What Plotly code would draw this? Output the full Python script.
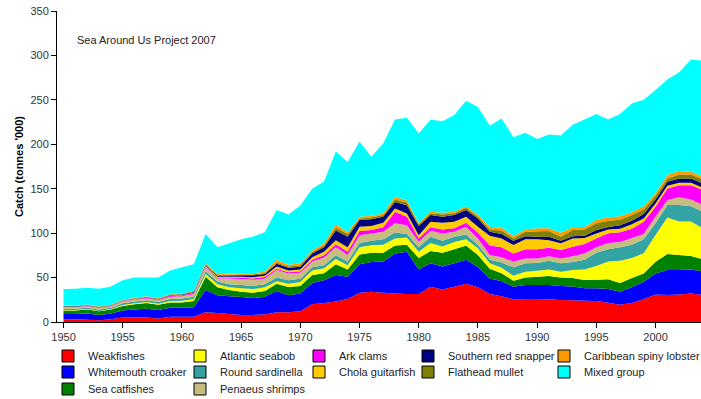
import plotly.graph_objects as go

years = list(range(1950, 2005))

weakfishes = [3, 3, 2.5, 2, 3, 5, 5, 5, 4, 6, 6, 6, 11, 10, 9, 8, 8, 8.5, 11, 11,
              12, 20, 21.5, 23, 26, 33, 34, 33, 32, 31.5, 31.5, 39.7, 36.7, 39.7, 43, 39, 31.5, 29, 25.5, 26,
              26, 25.5, 24.7, 24.5, 24, 23.6, 21.7, 19.5, 21.5, 25.5, 31, 30.4, 31, 32.2, 30.4]
whitemouth_croaker = [6, 6, 7, 6, 6.5, 8, 9, 10, 9.5, 10, 10, 10.5, 25, 20, 20, 20, 19, 20, 24, 19,
                      20, 24, 25.5, 30, 25, 32, 33.5, 35, 45, 47.5, 27.5, 26.3, 25.8, 26.3, 27, 23, 17.5, 17, 14.2, 15.6,
                      15.6, 16.1, 15.8, 15.5, 13.9, 14.4, 15.3, 14.5, 17.5, 19.9, 23.7, 28.1, 27.5, 27, 26.2]
sea_catfishes = [4, 4, 4.5, 4, 4.5, 5, 6, 6.5, 6, 6, 6, 7, 15, 9, 7, 6, 6, 6.5, 8, 9.5,
                 8.5, 9, 8, 12, 8, 11, 10.5, 10, 9, 8, 13, 14, 15.5, 16, 16, 13.5, 11, 9, 6.8, 8.4,
                 9.4, 10.1, 9.7, 9.5, 9.3, 9.5, 11, 10, 10.5, 9.3, 13.2, 18, 16.9, 15.1, 13.9]
atlantic_seabob = [0.5, 0.5, 0.5, 0.5, 0.5, 1, 1, 1, 1, 1.5, 2, 2.5, 3, 3.5, 3, 4, 4, 4, 3, 3.5,
                   4.5, 5, 5.5, 6, 5, 8, 8.5, 9, 8, 8, 7, 9, 7, 8, 7, 7.5, 6, 6, 5.5, 6.6,
                   6.7, 7.3, 6.4, 9, 11.8, 15.5, 20, 25, 22.5, 22.6, 30, 41.2, 37.6, 38.7, 35]
round_sardinella = [1.5, 1.5, 1.5, 1.5, 1.5, 2, 2, 2, 2, 2.5, 2.5, 2.5, 3, 3, 3.5, 3.5, 3.5, 3.5, 4, 4,
                    3.7, 3.5, 3.5, 4, 3.8, 5, 5, 6, 6.6, 4, 5, 7, 6.5, 6, 5.5, 3.6, 4, 6, 9.5, 9.4,
                    8.8, 10, 9.4, 9, 11, 15, 14, 15, 15, 15.7, 13.1, 13.9, 18.6, 17.4, 18.5]
penaeus_shrimps = [1.5, 1.5, 1.5, 1.5, 1.5, 2, 2, 2, 2, 2.5, 2.5, 3, 4, 3.5, 6.5, 7, 7, 6.3, 8.5, 7.5,
                   6.7, 6.5, 8.5, 9.5, 7.7, 8.6, 8, 8.6, 10.4, 10, 6.4, 6.7, 8.2, 5.6, 8.7, 7.4, 5.4, 6, 6.3, 5.6,
                   5.1, 5, 5.6, 6.5, 7, 6, 7, 6, 7.5, 6, 7.5, 5.7, 8.7, 7.6, 7.6]
ark_clams = [0.5, 0.5, 0.5, 0.5, 0.5, 0.5, 0.5, 0.7, 0.7, 1, 1, 1, 1, 1, 1, 1.5, 1.5, 1.8, 1.5, 1.5,
             1.6, 2, 2.5, 3, 3.5, 4.7, 4, 4.9, 13, 9.5, 3.6, 3.8, 4.5, 3.8, 4.5, 6.5, 10.6, 11, 9.2, 10.2,
             10.2, 9.7, 9.4, 10.8, 10.7, 10, 11, 11, 10.5, 13.9, 11.2, 13, 13.7, 16, 16.9]
chola_guitarfish = [0.3, 0.3, 0.3, 0.3, 0.3, 0.3, 0.3, 0.3, 0.3, 0.3, 0.4, 0.5, 1, 1, 1, 1, 1.5, 1.5, 2.5, 2,
                    2, 3, 4, 4.5, 5, 4.9, 4.5, 5.2, 3.8, 3.7, 3.6, 6.3, 7.5, 7.4, 6.8, 6.7, 11, 10, 9.6, 11.2,
                    11.2, 8.3, 7.5, 9.2, 6.8, 5.7, 4, 4, 5, 3.7, 3.8, 3.1, 2.7, 2.7, 2.5]
southern_red_snapper = [0.3, 0.3, 0.3, 0.3, 0.3, 0.3, 0.4, 0.4, 0.4, 0.5, 0.6, 0.7, 1, 1, 1.2, 1.5, 2, 2, 3, 3,
                        3.2, 4, 5, 11, 12, 7.5, 7.5, 6.8, 7.2, 9.3, 10.4, 7.6, 6.8, 7.6, 7.5, 9.4, 4.5, 5, 4.9, 3.6,
                        3, 4, 3, 2.6, 2.5, 3.8, 3, 4, 4, 4.9, 4.5, 4.4, 4.8, 4.8, 4.9]
flathead_mullet = [0.5, 0.5, 0.5, 0.5, 0.5, 0.5, 0.5, 0.5, 0.5, 0.5, 0.6, 0.8, 1, 1, 1, 1, 1, 1, 1.5, 1.5,
                   1.8, 1.5, 2, 3, 3, 1.8, 2, 1.8, 3, 3, 2, 2.1, 2.5, 2.1, 2.5, 1.9, 2.5, 4, 2.5, 5,
                   6, 6.3, 4.5, 6.9, 7, 7.5, 7, 6, 6.5, 5.2, 3.7, 3.7, 4.5, 4.5, 4.5]
caribbean_spiny_lobster = [0.4, 0.4, 0.5, 0.4, 0.4, 0.4, 0.5, 0.6, 0.6, 0.5, 0.6, 0.5, 1, 1, 1, 1.3, 1.5, 1.4, 3, 2,
                           2, 2, 2.5, 4, 2, 2, 2, 1.7, 3, 2.1, 1.7, 1.5, 2, 1.5, 1.9, 1.9, 3, 3, 2.6, 2.4,
                           3.4, 3.1, 4.5, 3, 3, 3.7, 4, 4, 3, 3.7, 3.1, 3.8, 3.8, 3, 3]
mixed_group = [18.5, 19, 18.9, 20, 20.5, 22, 22.8, 21, 23, 26.7, 29.3, 30, 33, 30, 34.3, 38.2, 41, 44.5, 56, 56.5,
               65, 69.5, 69.5, 82, 79, 84.5, 66.5, 79, 87, 93.4, 100.3, 104, 103, 109, 118.6, 121.6, 114, 123, 111.4, 109,
               100.6, 105.6, 109.5, 115.5, 121, 119.3, 110, 115, 122.5, 119.6, 116.2, 107.7, 111.2, 126.5, 130.6]

series_names = ["Weakfishes", "Whitemouth croaker", "Sea catfishes", "Atlantic seabob",
                "Round sardinella", "Penaeus shrimps", "Ark clams", "Chola guitarfish",
                "Southern red snapper", "Flathead mullet", "Caribbean spiny lobster", "Mixed group"]
series_values = [weakfishes, whitemouth_croaker, sea_catfishes, atlantic_seabob,
                 round_sardinella, penaeus_shrimps, ark_clams, chola_guitarfish,
                 southern_red_snapper, flathead_mullet, caribbean_spiny_lobster, mixed_group]
series_colors = ["#FF0000", "#0000FF", "#008000", "#FFFF00",
                 "#33A3A3", "#C8BD80", "#FF00FF", "#FFCC00",
                 "#000080", "#808000", "#FF9900", "#00FFFF"]

y_ticks = [0, 50, 100, 150, 200, 250, 300, 350]
x_ticks = [1950, 1955, 1960, 1965, 1970, 1975, 1980, 1985, 1990, 1995, 2000]

FONT = "Liberation Sans, Arial, sans-serif"
W, H = 701, 399
ML, MR, MT, MB = 57, 0, 11, 77
PW, PH = W - ML - MR, H - MT - MB

fig = go.Figure()
for name, vals, col in zip(series_names, series_values, series_colors):
    fig.add_trace(go.Scatter(x=years, y=vals, name=name, stackgroup="catch", mode="none",
                             fillcolor=col, showlegend=False, hoverinfo="skip"))

# legend layout: column swatch-left x pixel, row centre y pixel
legend_pos = [(62, 356), (62, 372), (62, 389),
              (194, 356), (194, 372), (194, 389),
              (313, 356), (313, 372),
              (422, 356), (422, 372),
              (558, 356), (558, 372)]
legends = {}
for i, (name, col) in enumerate(zip(series_names, series_colors)):
    key = "legend" if i == 0 else f"legend{i+1}"
    fig.add_trace(go.Bar(x=[None], y=[None], name=name, legend=key,
                         marker=dict(color=col, line=dict(color="black", width=1))))
    px, py = legend_pos[i]
    legends[key] = dict(x=(px - 14 - ML) / PW, y=(H - MB - (py - 14.5)) / PH,
                        xanchor="left", yanchor="top", orientation="v",
                        font=dict(family=FONT, size=11, color="#222222"),
                        bgcolor="rgba(0,0,0,0)", borderwidth=0, itemwidth=30)

fig.update_layout(
    width=W, height=H, template="none",
    margin=dict(l=ML, r=MR, t=MT, b=MB, autoexpand=False),
    paper_bgcolor="white", plot_bgcolor="white",
    font=dict(family=FONT, size=11, color="#333333"),
    showlegend=True,
    xaxis=dict(range=[1949.45, 2003.84], tickvals=x_ticks, ticks="outside", ticklen=5,
               tickcolor="black", showline=True, linecolor="black", linewidth=1,
               showgrid=False, zeroline=False, tickfont=dict(size=11, color="#333333")),
    yaxis=dict(range=[0, 350], tickvals=y_ticks, ticks="outside", ticklen=5,
               tickcolor="black", showline=True, linecolor="black", linewidth=1,
               showgrid=False, zeroline=False, tickfont=dict(size=11, color="#333333"),
               title=dict(text="<b>Catch (tonnes '000)</b>", standoff=4,
                          font=dict(size=11, color="#000000"))),
    annotations=[dict(text="Sea Around Us Project 2007", xref="paper", yref="paper",
                      x=(75 - ML) / PW, y=(H - MB - 40) / PH, xanchor="left", yanchor="middle",
                      showarrow=False, font=dict(size=11, color="#222222"))],
    **legends,
)

fig.write_html("out.html", config={"displayModeBar": False},
               post_script="document.body.style.margin='0';")
